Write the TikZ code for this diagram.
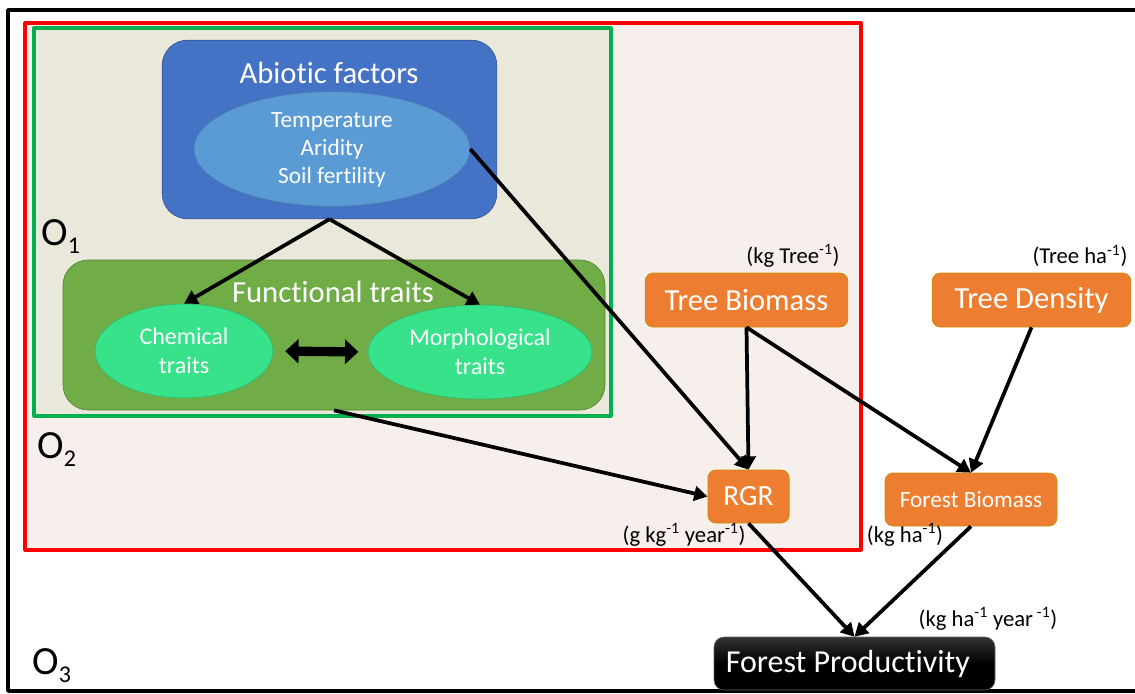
\documentclass[tikz,border=0pt]{standalone}
\usepackage{fontspec}
\setmainfont{Carlito}[Ligatures=NoCommon]
\usetikzlibrary{shapes.geometric,arrows.meta}
\definecolor{abioblue}{HTML}{4472C4}
\definecolor{climblue}{HTML}{5B9BD5}
\definecolor{traitgreen}{HTML}{70AD47}
\definecolor{mintgreen}{RGB}{56,226,138}
\definecolor{treeorange}{HTML}{ED7D31}
\definecolor{panelred}{HTML}{F6EFEB}
\definecolor{panelgreen}{HTML}{EAE8DA}
\definecolor{linegreen}{HTML}{00B050}
\newcommand{\fs}[2]{\fontsize{#1}{#2}\selectfont}
\begin{document}
\begin{tikzpicture}[x=0.75pt, y=-0.75pt, line join=round, >={Triangle[length=10pt,width=11pt]},
	bigbox/.style={draw=#1!75!black, fill=#1, line width=0.5pt, rounded corners=19pt, inner sep=0pt},
	blob/.style={ellipse, draw=#1!80!black, fill=#1, line width=0.4pt, inner sep=0pt},
	var/.style={draw=orange!60!yellow!80!black, fill=treeorange, line width=0.5pt, rounded corners=6pt,
		text=white, inner sep=0pt, minimum height=40.5pt},
	unit/.style={font=\fs{17}{20}, inner sep=0pt},
	olabel/.style={font=\fs{30}{30}, anchor=base west, inner sep=0pt},
	txt/.style={text=white, align=center, inner sep=0pt},
	arr/.style={->, line width=2.8pt}]
	\useasboundingbox (0,0) rectangle (1135,693);
	% outer frame (O3)
	\draw[line width=2.6pt] (8,10) rectangle (1150,691);
	% O2 and O1 panels
	\draw[red, line width=2.4pt, fill=panelred] (25,23) rectangle (861,550);
	\draw[linegreen, line width=2.4pt, fill=panelgreen] (34,28) rectangle (611,416);
	% abiotic factors
	\node[bigbox=abioblue, minimum width=251pt, minimum height=134pt] (abio) at (329.5,129.5) {};
	\node[txt, font=\fs{23}{28}] (abiot) at (329,73) {Abiotic factors};
	\node[blob=climblue, minimum width=207pt, minimum height=86pt] (clim) at (332,149) {};
	\node[txt, font=\fs{17.5}{21}] (climt) at (332,150) {Temperature\\Aridity\\Soil fertility};
	% functional traits
	\node[bigbox=traitgreen, minimum width=406.5pt, minimum height=112.5pt] (func) at (334,335) {};
	\node[txt, font=\fs{23}{28}] (funct) at (333,292) {Functional traits};
	\node[blob=mintgreen, minimum width=133.5pt, minimum height=70.5pt] (chem) at (184,351) {};
	\node[txt, font=\fs{18}{22}] (chemt) at (184,351) {Chemical\\traits};
	\node[blob=mintgreen, minimum width=168pt, minimum height=70.5pt] (morph) at (480,352) {};
	\node[txt, font=\fs{18}{22}] (morpht) at (480,352) {Morphological\\traits};
	% stand level variables
	\node[var, minimum width=152pt, font=\fs{23}{28}] (tb) at (746.5,300) {Tree Biomass};
	\node[var, minimum width=149pt, font=\fs{23}{28}] (td) at (1031.5,300) {Tree Density};
	\node[var, minimum width=61pt, minimum height=39.75pt, font=\fs{22}{26}] (rgr) at (748.5,496.5) {RGR};
	\node[var, minimum width=129pt, minimum height=39.75pt, font=\fs{17.5}{21}] (fb) at (971,499.5) {Forest Biomass};
	\node[draw=black!60, top color=black!80, bottom color=black, middle color=black, rounded corners=7.5pt,
		minimum width=210.75pt, minimum height=39.75pt, inner sep=0pt, text=white, font=\fs{24}{28}] (fp) at (854.5,663.5) {Forest Productivity\hspace*{10pt}};
	% units
	\node[unit] (utb) at (793,256) {(kg Tree\textsuperscript{-1})};
	\node[unit] (utd) at (1080,256) {(Tree ha\textsuperscript{-1})};
	\node[unit] (urgr) at (684,535) {(g kg\textsuperscript{-1} year\textsuperscript{-1})};
	\node[unit] (ufb) at (905,535) {(kg ha\textsuperscript{-1})};
	\node[unit] (ufp) at (988,619) {(kg ha\textsuperscript{-1} year\,\textsuperscript{-1})};
	% scale labels
	\node[olabel] (o1) at (41,245) {O\raisebox{-6pt}{\fs{18}{18}1}};
	\node[olabel] (o2) at (37,458) {O\raisebox{-6pt}{\fs{18}{18}2}};
	\node[olabel] (o3) at (32,674) {O\raisebox{-6pt}{\fs{18}{18}3}};
	% paths
	\foreach \a/\b in {abio.south/chem.north, abio.south/morph.north, clim.east/rgr.north,
		func.south/rgr.west, tb.south/rgr.north, tb.south/fb.north, td.south/fb.north,
		rgr.south/fp.north, fb.south/fp.north}
		\draw[arr] (\a) -- (\b);
	\draw[line width=7pt, {Triangle[length=10pt,width=18pt]}-{Triangle[length=10pt,width=18pt]},
		shorten <=9pt, shorten >=7pt] (chem.east) -- (morph.west);
\end{tikzpicture}
\end{document}
